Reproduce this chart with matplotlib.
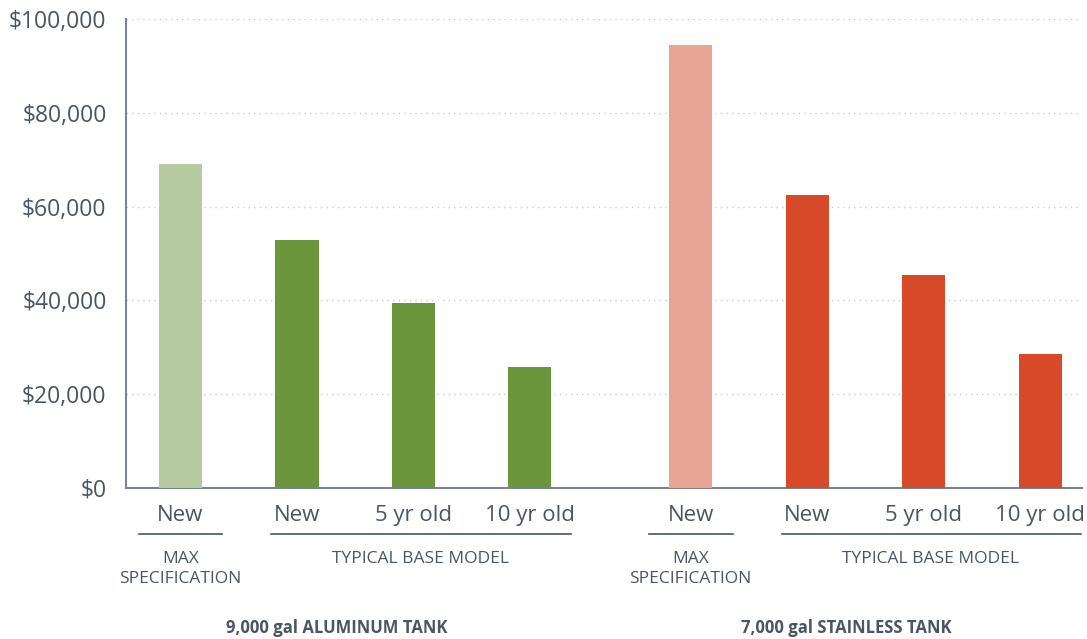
import matplotlib
matplotlib.use("Agg")
import matplotlib.pyplot as plt
from matplotlib.ticker import FuncFormatter

# Datos
tick_labels = ["New", "New", "5 yr old", "10 yr old", "New", "New", "5 yr old", "10 yr old"]
aluminum_values = [69000, 52900, 39400, 25800]
stainless_values = [94500, 62500, 45400, 28600]
group_titles = ["9,000 gal ALUMINUM TANK", "7,000 gal STAINLESS TANK"]
sub_labels = [["MAX", "SPECIFICATION"], "TYPICAL BASE MODEL"]

aluminum_colors = ["#b6cb9f", "#6b963b", "#6b963b", "#6b963b"]
stainless_colors = ["#e9a593", "#d64a29", "#d64a29", "#d64a29"]

text_color = "#4b5661"
plt.rcParams["font.family"] = ["Open Sans", "DejaVu Sans"]

# posiciones: segundo grupo separado un poco mas
gap = 1.38
x_al = [0, 1, 2, 3]
x_st = [3 + gap + i for i in range(4)]

fig = plt.figure(figsize=(10.87, 6.39), dpi=100)
ax = fig.add_axes([126 / 1087, 1 - 488 / 639, (1082 - 126) / 1087, 469 / 639])

ax.bar(x_al, aluminum_values, width=0.37, color=aluminum_colors, zorder=3)
ax.bar(x_st, stainless_values, width=0.37, color=stainless_colors, zorder=3)

ax.set_ylim(0, 100000)
ax.set_xlim(-0.468, 7.74)
ax.set_yticks(range(0, 100001, 20000))
ax.yaxis.set_major_formatter(FuncFormatter(lambda v, p: f"${v:,.0f}"))
ax.tick_params(axis="y", length=0, pad=14, labelsize=16.5, labelcolor=text_color)
ax.set_xticks(x_al + x_st)
ax.set_xticklabels(tick_labels)
ax.tick_params(axis="x", length=0, pad=12, labelsize=16, labelcolor=text_color)

ax.grid(axis="y", color="#c8cbce", linestyle=(0, (1, 3)), linewidth=1, zorder=0)
for s in ["top", "right"]:
    ax.spines[s].set_visible(False)
for s in ["left", "bottom"]:
    ax.spines[s].set_color("#7c858d")
    ax.spines[s].set_linewidth(1.5)

trans = ax.get_xaxis_transform()
for xs, title in [(x_al, group_titles[0]), (x_st, group_titles[1])]:
    # linea y texto bajo "MAX"
    ax.plot([xs[0] - 0.36, xs[0] + 0.36], [-0.098, -0.098], transform=trans,
            color="#4b5661", linewidth=1.2, clip_on=False)
    ax.text(xs[0], -0.151, sub_labels[0][0], transform=trans, ha="center", va="center",
            fontsize=12.5, color=text_color)
    ax.text(xs[0], -0.193, sub_labels[0][1], transform=trans, ha="center", va="center",
            fontsize=12.5, color=text_color)
    ax.plot([xs[1] - 0.22, xs[3] + 0.35], [-0.098, -0.098], transform=trans,
            color="#4b5661", linewidth=1.2, clip_on=False)
    ax.text((xs[1] + xs[3]) / 2 + 0.06, -0.151, sub_labels[1], transform=trans,
            ha="center", va="center", fontsize=12.5, color=text_color)
    ax.text((xs[0] + xs[3]) / 2 - 0.16, -0.298, title, transform=trans, ha="center",
            va="center", fontsize=12, fontweight="bold", color=text_color)

fig.savefig("out.png", dpi=100)
